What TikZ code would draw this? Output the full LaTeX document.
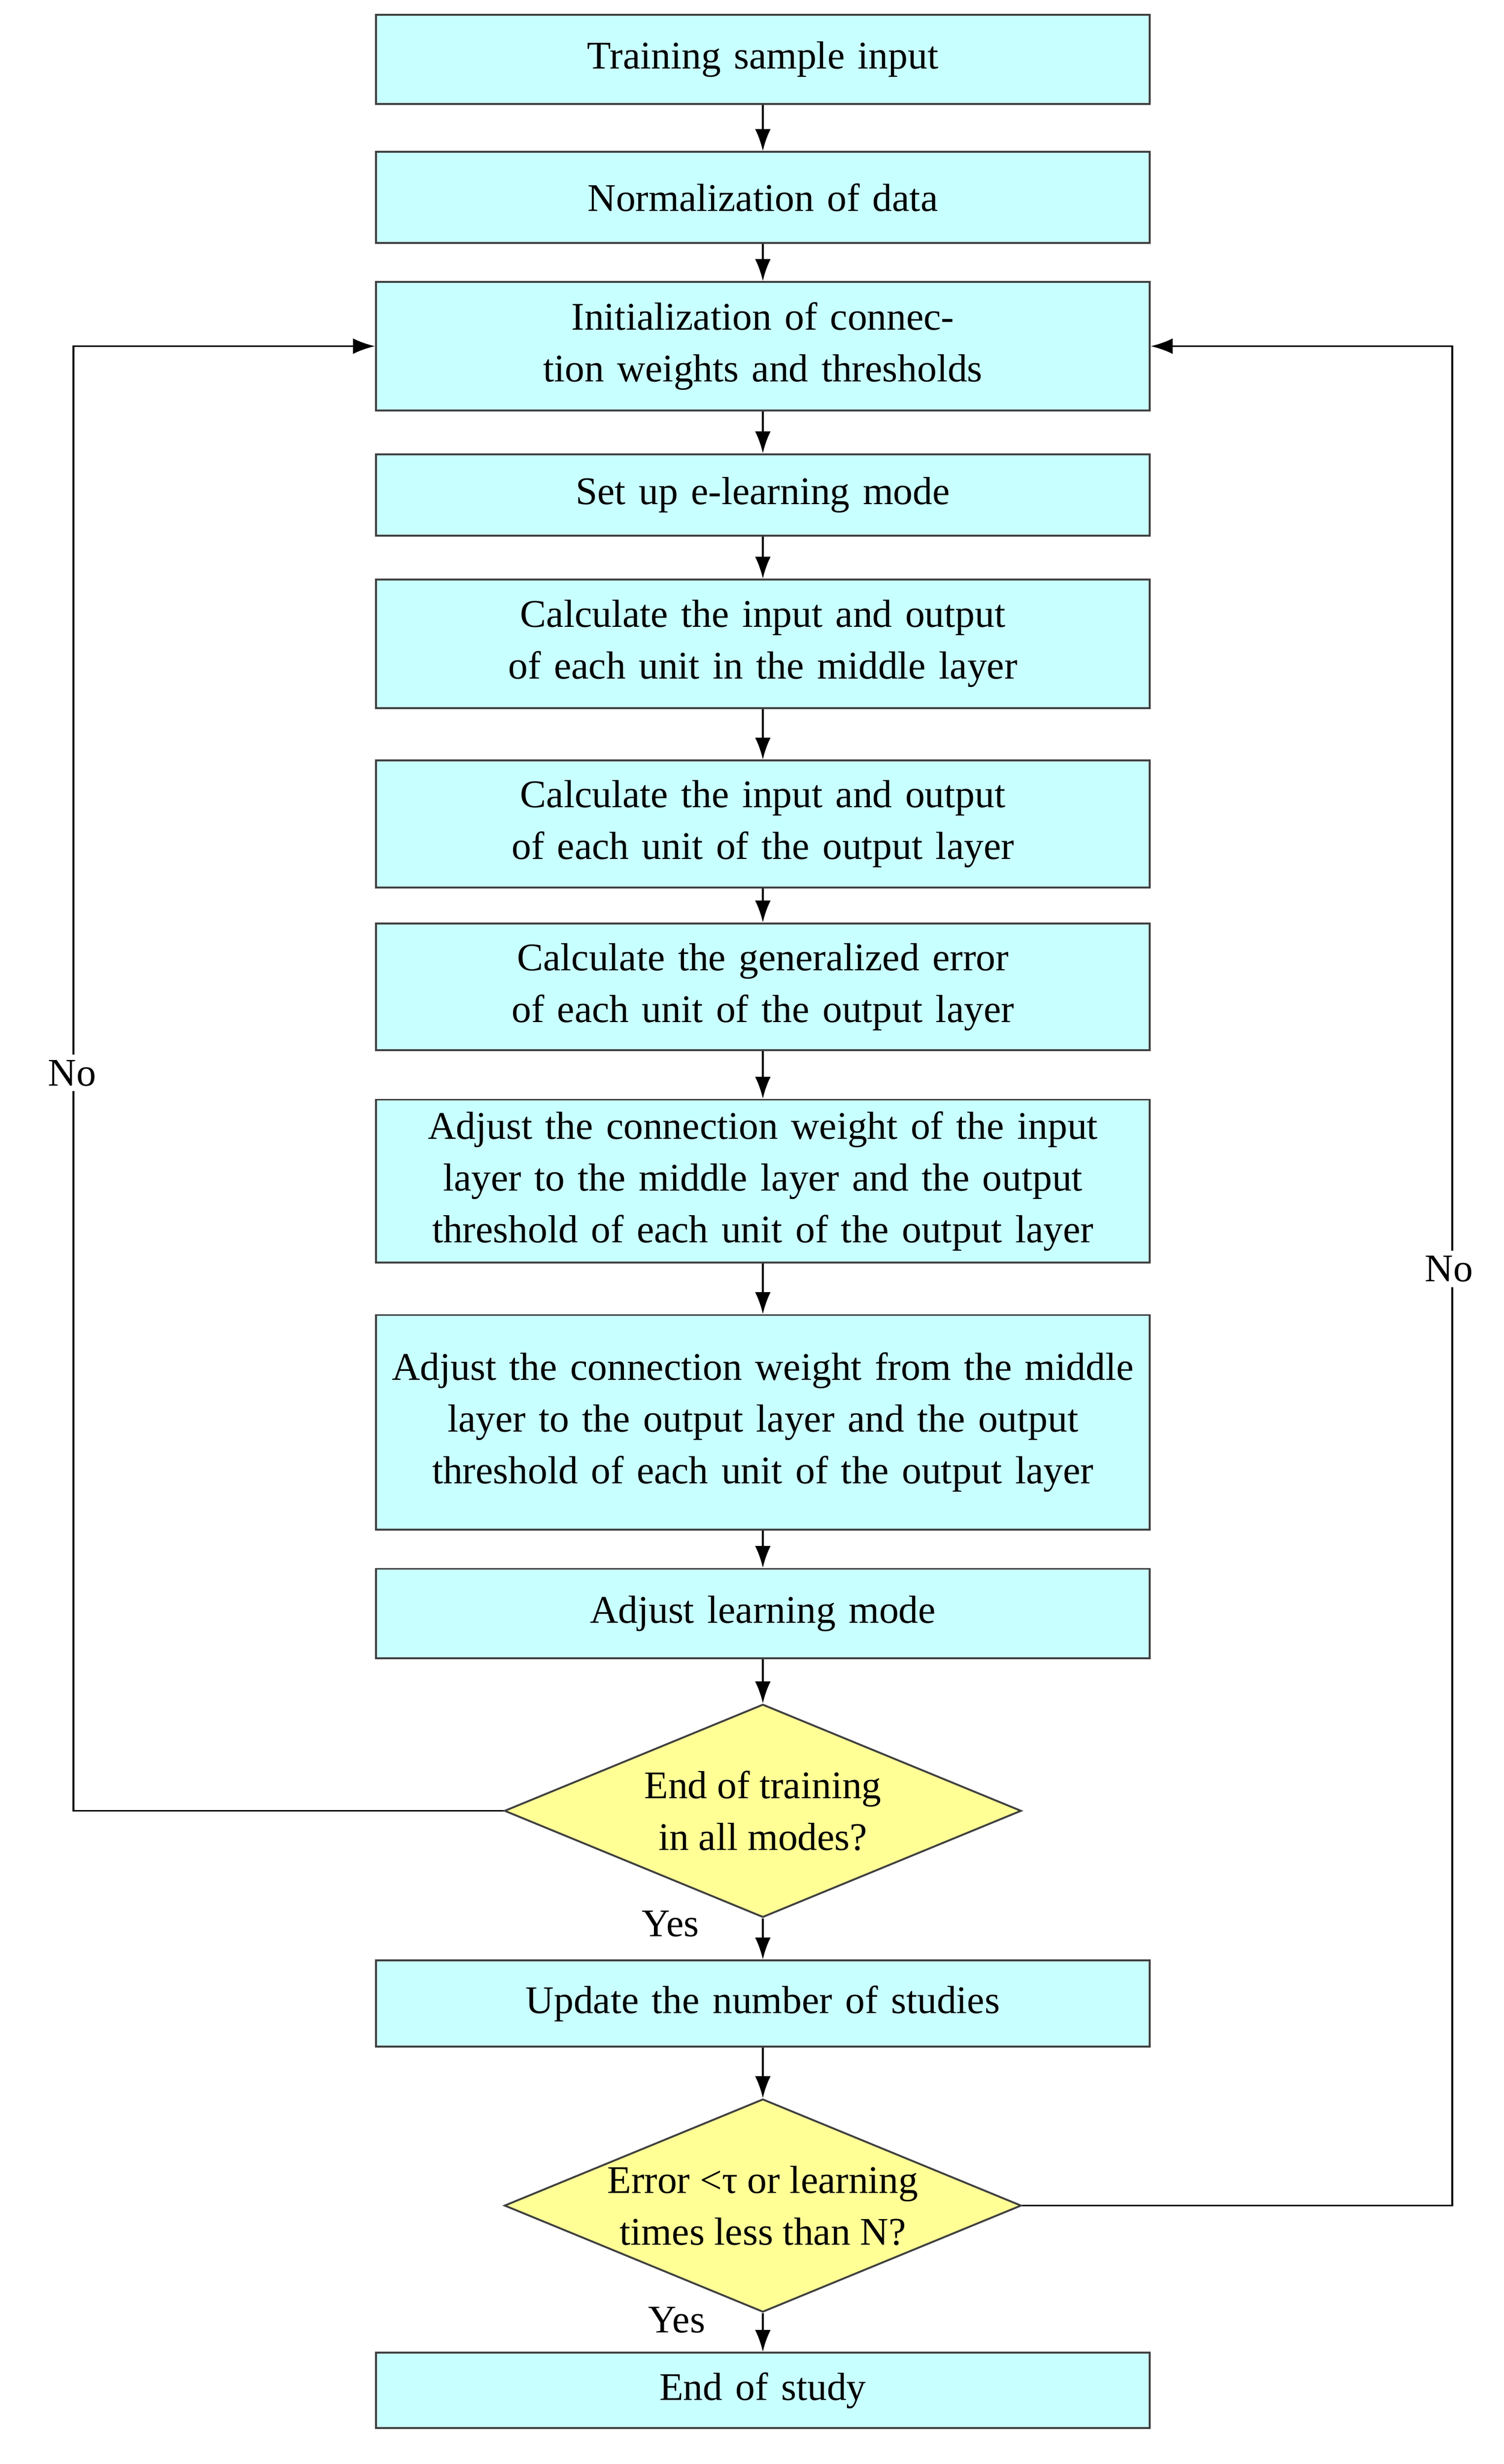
\documentclass[tikz,border=0pt]{standalone}
\usepackage{fontspec}
\setmainfont{Liberation Serif}
\usetikzlibrary{shapes.geometric,arrows.meta}
\definecolor{boxcyan}{RGB}{200,255,255}
\definecolor{decyellow}{RGB}{255,255,150}
\tikzset{
  stage/.style={rectangle,draw=black!75,line width=1.2pt,fill=boxcyan,
    minimum width=494pt,text width=475pt,align=center,inner sep=0pt,
    font=\fontsize{25}{33}\selectfont},
  test/.style={diamond,draw=black!75,line width=1.2pt,fill=decyellow,
    minimum width=330pt,minimum height=136pt,aspect=2.4,inner sep=0pt,
    align=center,font=\fontsize{25}{33}\selectfont},
  flow/.style={line width=1.2pt,-{Latex[length=14pt,width=10pt]}},
  lbl/.style={font=\fontsize{25}{30}\selectfont}
}
\begin{document}
\begin{tikzpicture}[x=1pt,y=-1pt]
\useasboundingbox (0,0) rectangle (960,1573);
\node[stage,minimum height=57pt] (input) at (487,38) {Training sample input};
\node[stage,minimum height=58pt] (norm) at (487,126) {Normalization of data};
\node[stage,minimum height=82pt] (init) at (487,221) {Initialization of connection weights and thresholds};
\node[stage,minimum height=52pt] (mode) at (487,316) {Set up e-learning mode};
\node[stage,minimum height=82pt] (midio) at (487,411) {Calculate the input and output of each unit in the middle layer};
\node[stage,minimum height=81pt] (outio) at (487,526) {Calculate the input and output of each unit of the output layer};
\node[stage,minimum height=81pt] (gerr) at (487,630) {Calculate the generalized error of each unit of the output layer};
\node[stage,minimum height=104pt] (adjin) at (487,754) {Adjust the connection weight of the input layer to the middle layer and the output threshold of each unit of the output layer};
\node[stage,minimum height=137pt] (adjmid) at (487,908) {Adjust the connection weight from the middle layer to the output layer and the output threshold of each unit of the output layer};
\node[stage,minimum height=57pt] (adjmode) at (487,1030) {Adjust learning mode};
\node[test] (endtrain) at (487,1156) {End of training\\in all modes?};
\node[stage,minimum height=55pt] (update) at (487,1279) {Update the number of studies};
\node[test] (err) at (487,1408) {Error <τ or learning\\times less than N?};
\node[stage,minimum height=48pt] (stop) at (487,1526) {End of study};
% main chain
\foreach \a/\b in {input/norm,norm/init,init/mode,mode/midio,midio/outio,
  outio/gerr,gerr/adjin,adjin/adjmid,adjmid/adjmode,adjmode/endtrain,
  endtrain/update,update/err,err/stop}
  \draw[flow] (\a) -- (\b);
% loops back
\draw[flow] (endtrain.west) -| (47,700) |- (init.west);
\draw[flow] (err.east) -| (927,700) |- (init.east);
\node[lbl,fill=white] at (46,685) {No};
\node[lbl,fill=white] at (925,810) {No};
\node[lbl] at (428,1228) {Yes};
\node[lbl] at (432,1481) {Yes};
\end{tikzpicture}
\end{document}
